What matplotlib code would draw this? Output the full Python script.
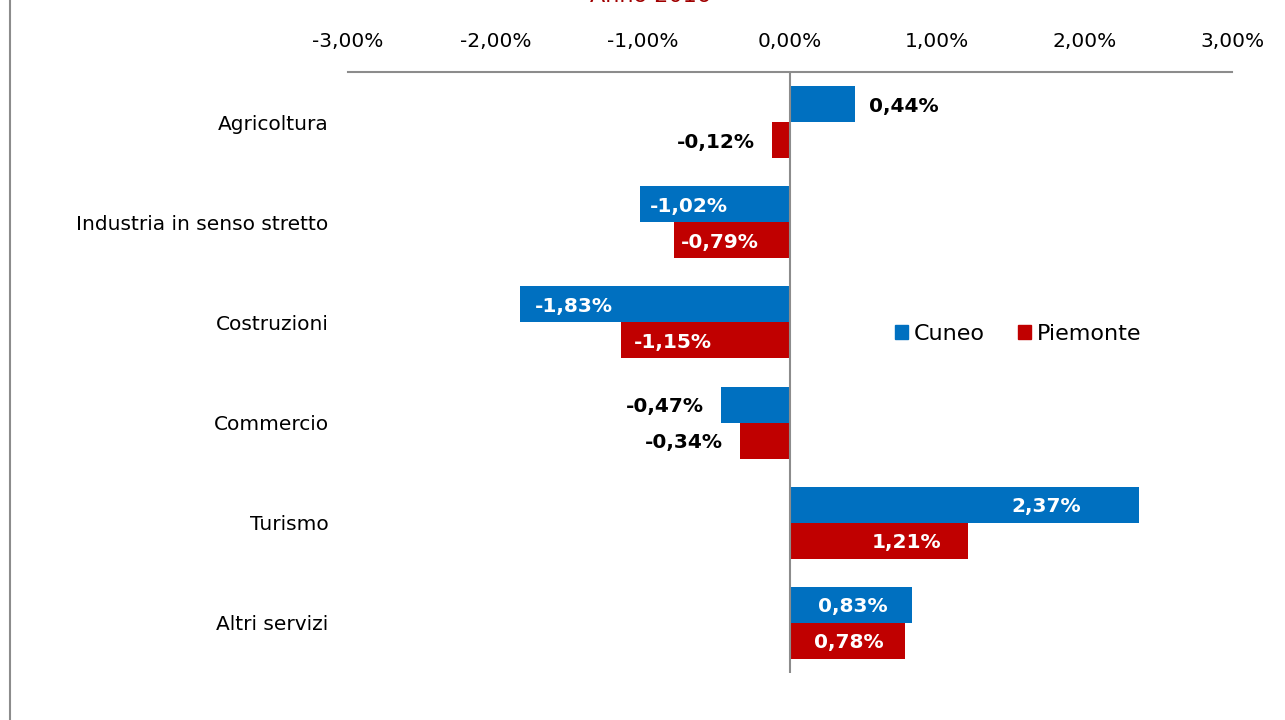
import matplotlib
matplotlib.use("Agg")
import matplotlib.pyplot as plt
from matplotlib.lines import Line2D
from matplotlib.patches import Patch

categories = ["Agricoltura", "Industria in senso stretto", "Costruzioni",
              "Commercio", "Turismo", "Altri servizi"]
cuneo = [0.44, -1.02, -1.83, -0.47, 2.37, 0.83]
piemonte = [-0.12, -0.79, -1.15, -0.34, 1.21, 0.78]
series_names = ["Cuneo", "Piemonte"]
xticks = [-3, -2, -1, 0, 1, 2, 3]
title = "Anno 2016"

BLUE = "#0070C0"
RED = "#C00000"
GRAY = "#8C8C8C"
FS = 14.5

plt.rcParams['font.family'] = ['DejaVu Sans']

fig = plt.figure(figsize=(12.85, 7.2), dpi=100)
ax = fig.add_axes([348/1285, 1 - 673/720, (1232-348)/1285, (673-72)/720])

h = 0.36
ys = list(range(len(categories)))
ax.barh([y - h/2 for y in ys], cuneo, height=h, color=BLUE, label=series_names[0])
ax.barh([y + h/2 for y in ys], piemonte, height=h, color=RED, label=series_names[1])

ax.set_xlim(-3, 3)
ax.set_ylim(len(categories) - 0.5, -0.5)

for s in ["left", "right", "bottom"]:
    ax.spines[s].set_visible(False)
ax.spines["top"].set_color(GRAY)
ax.spines["top"].set_linewidth(1.5)
ax.axvline(0, color=GRAY, lw=1.5, zorder=3)

ax.xaxis.tick_top()
ax.set_xticks(xticks)
ax.set_xticklabels([f"{v:.2f}%".replace(".", ",") for v in xticks], fontsize=FS)
ax.tick_params(axis="x", length=0, pad=15)
ax.set_yticks(ys)
ax.set_yticklabels(categories, fontsize=FS)
ax.tick_params(axis="y", length=0, pad=14)

def fmt(v):
    return f"{v:.2f}%".replace(".", ",")

inside_pos = {
    ("c", 1): -0.686, ("c", 2): -1.466, ("c", 4): 1.738, ("c", 5): 0.428,
    ("p", 1): -0.475, ("p", 2): -0.794, ("p", 4): 0.788, ("p", 5): 0.40,
}
px = 6 / (1232 - 348)
for key, vals, off in [("c", cuneo, -h/2), ("p", piemonte, h/2)]:
    for i, v in enumerate(vals):
        y = i + off + 0.02
        if (key, i) in inside_pos:
            ax.text(inside_pos[(key, i)], y, fmt(v), color="white", fontweight="bold",
                    fontsize=FS, ha="center", va="center")
        elif v >= 0:
            ax.text(v + 14*px, y, fmt(v), color="black", fontweight="bold",
                    fontsize=FS, ha="left", va="center")
        else:
            ax.text(v - 17*px, y, fmt(v), color="black", fontweight="bold",
                    fontsize=FS, ha="right", va="center")

handles = [Patch(color=BLUE, label=series_names[0]), Patch(color=RED, label=series_names[1])]
fig.legend(handles=handles, loc="center", bbox_to_anchor=(1018/1285, 1 - 334/720),
           ncol=2, frameon=False, fontsize=16, handlelength=0.6, handleheight=0.6,
           handletextpad=0.25, columnspacing=1.5)

fig.text(650/1285, 1 - 1.5/720, title, color="#A00000", fontsize=16, ha="center", va="baseline")

fig.add_artist(Line2D([9.5/1285, 9.5/1285], [0, 1], color=GRAY, lw=1.5))

fig.savefig("out.png", dpi=100)
